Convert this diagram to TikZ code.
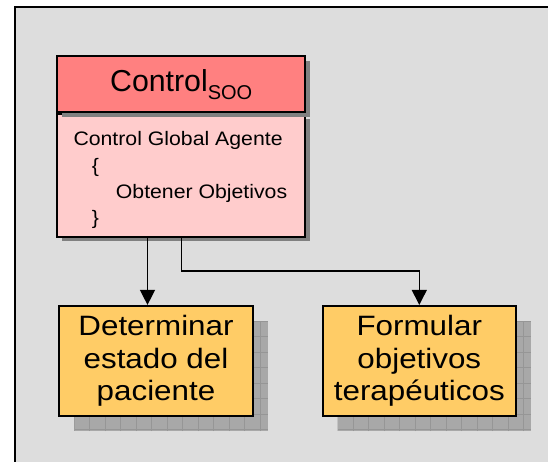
\documentclass[tikz,border=0pt]{standalone}
\usepackage{fontspec}
\setmainfont{Liberation Sans}
\newfontfamily\bodyfont{Liberation Sans}[FakeStretch=1.09]
\newfontfamily\taskfont{Liberation Sans}[FakeStretch=1.12]
\usetikzlibrary{positioning}
\usetikzlibrary{shadows}
\usetikzlibrary{arrows.meta}
\usetikzlibrary{backgrounds}

\definecolor{framebg}{RGB}{221,221,221}
\definecolor{hdrred}{RGB}{255,128,128}
\definecolor{bodypink}{RGB}{255,204,204}
\definecolor{taskyel}{RGB}{255,204,102}
\definecolor{shdark}{RGB}{128,128,128}
\definecolor{gridshade}{RGB}{168,168,168}
\definecolor{gridline}{RGB}{150,150,150}

\begin{document}
\begin{tikzpicture}[x=1pt, y=-1pt,
    boxline/.style={draw=black, line width=1.9pt, inner sep=0pt},
    ctlhead/.style={boxline, fill=hdrred, minimum width=247.7pt, minimum height=56pt,
        font=\fontsize{30.3pt}{36pt}\selectfont},
    ctlbody/.style={boxline, fill=bodypink, minimum width=247.7pt, minimum height=122.4pt},
    darkshadow/.style={drop shadow={shadow xshift=4.5pt, shadow yshift=-4.5pt, fill=shdark, opacity=1}},
    taskbox/.style={boxline, fill=taskyel, minimum width=193.4pt, minimum height=110.3pt,
        align=center, font={\taskfont\fontsize{28pt}{32.5pt}\selectfont}},
    link/.style={line width=1.4pt, -{Triangle[width=15pt,length=15pt]}}]
    \useasboundingbox (0,0) rectangle (548,462);

    % Control box
    \node[ctlbody, darkshadow] (ctrlbody) at (181.2,175.5) {};
    \node[ctlhead, darkshadow, above=0pt of ctrlbody] (ctrlhead)
        {Control\raisebox{-8.3pt}{\fontsize{20pt}{24pt}\selectfont SOO}};
    \node[anchor=north west, inner sep=0pt, align=left,
        font={\bodyfont\fontsize{19.5pt}{26.3pt}\selectfont}] (ctrltext) at (73.3,131.5)
        {Control Global Agente\\ \hspace*{18.4pt}\{\\ \hspace*{42.4pt}Obtener Objetivos\\ \hspace*{18.4pt}\}};

    % Tasks
    \node[taskbox] (estado) at (156,361) {Determinar\\estado del\\paciente};
    \node[taskbox] (objetivos) at (419.3,361) {Formular\\objetivos\\terapéuticos};

    % Links
    \coordinate (outL) at ([xshift=-33.7pt]ctrlbody.south);
    \draw[link] (outL) -- (outL |- estado.north);
    \draw[link] (ctrlbody.south) -- ++(0,33.3) -| (objetivos.north);

    % Frame and grid shadows
    \begin{scope}[on background layer]
        \fill[white] (0,0) rectangle (548,462);
        \fill[framebg] (15,7) rectangle (548,462);
        \draw[line width=2pt] (15,462) -- (15,7) -- (548,7);
        \foreach \t in {estado, objetivos} {
            \begin{scope}[shift={([shift={(16pt,-16pt)}]\t.north west)}]
                \fill[gridshade] (0,0) rectangle (193.4,110.3);
                \clip (0,0) rectangle (193.4,110.3);
                \draw[gridline, line width=0.8pt, step=15.5pt] (0,110.3) grid (193.4,0);
            \end{scope}
        }
    \end{scope}
\end{tikzpicture}
\end{document}
